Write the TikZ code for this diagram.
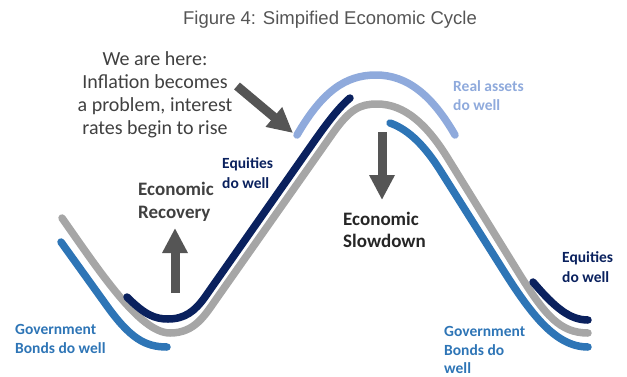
\documentclass[tikz,border=0pt]{standalone}
\usepackage{fontspec}
\setmainfont{Carlito}
\newfontfamily\titlefont{Liberation Sans}
\usepackage{xcolor}
\usepackage{tikz}
\usetikzlibrary{arrows.meta}

\definecolor{cyclegray}{HTML}{A6A6A6}
\definecolor{equitynavy}{HTML}{0A215E}
\definecolor{bondblue}{HTML}{2E75B6}
\definecolor{realblue}{HTML}{8FAADC}
\definecolor{arrowgray}{HTML}{555555}
\definecolor{textgray}{HTML}{404040}

\begin{document}
\begin{tikzpicture}[x=1pt,y=-1pt,
  band/.style={line width=7.5pt, line cap=round},
  block/.style={arrowgray, line width=9pt, -{Triangle[length=25pt,width=24pt]}},
  tag/.style={font=\bfseries\fontsize{15.5}{19.5}\selectfont, align=left, anchor=west, inner sep=0pt}]
\useasboundingbox (0,0) rectangle (627,376);

\node[text=arrowgray, inner sep=0pt] (title) at (330,20)
  {\titlefont\fontsize{18.5}{22}\selectfont Figure 4: Simpified Economic Cycle};

% the cycle and the bands riding on it
\draw[band, cyclegray] (62,218) .. controls (100,272) and (140,333) .. (170,333)
  .. controls (195,333) and (205,315) .. (217,298) -- (333,133)
  .. controls (350,109) and (360,104) .. (377,104)
  .. controls (405,104) and (427,125) .. (447,157) -- (520,275)
  .. controls (545,315) and (560,333) .. (588,333);
\draw[band, realblue] (297,135) .. controls (322,92) and (345,75) .. (376,75)
  .. controls (407,75) and (432,95) .. (455,135);
\draw[band, equitynavy] (127,297) .. controls (145,315) and (155,319) .. (168,319)
  .. controls (185,319) and (195,311) .. (205,297) -- (313,143)
  .. controls (325,126) and (338,108) .. (350,98);
\draw[band, equitynavy] (533,282) .. controls (555,308) and (570,320) .. (588,320);
\draw[band, bondblue] (61,242) -- (107,306) .. controls (130,338) and (145,347) .. (167,347);
\draw[band, bondblue] (390,123) .. controls (410,130) and (426,148) .. (440,170) -- (500,265)
  .. controls (530,313) and (555,347) .. (588,347);

% block arrows
\coordinate (hereFrom) at (237,86);
\coordinate (hereTo) at (293,133);
\coordinate (riseFrom) at (175,293);
\coordinate (riseTo) at (175,228);
\coordinate (fallFrom) at (382,132);
\coordinate (fallTo) at (382,200);
\draw[block] (hereFrom) -- (hereTo);
\draw[block] (riseFrom) -- (riseTo);
\draw[block] (fallFrom) -- (fallTo);

% labels
\node[text=textgray, align=center, inner sep=0pt, font=\fontsize{20}{23}\selectfont] (here) at (155,95)
  {We are here:\\Inflation becomes\\a problem, interest\\rates begin to rise};
\node[tag, text=textgray, font=\bfseries\fontsize{19}{23}\selectfont] (recovery) at (138,201.5) {Economic\\Recovery};
\node[tag, text=black!85, font=\bfseries\fontsize{19}{22}\selectfont] (slowdown) at (343,230) {Economic\\Slowdown};
\node[tag, text=equitynavy] (equitiesL) at (222,173) {Equities\\do well};
\node[tag, text=equitynavy] (equitiesR) at (562,267) {Equities\\do well};
\node[tag, text=bondblue] (bondsL) at (15,339) {Government\\Bonds do well};
\node[tag, text=bondblue, font=\bfseries\fontsize{15.5}{18.5}\selectfont] (bondsR) at (444,350) {Government\\Bonds do\\well};
\node[tag, text=realblue] (real) at (453,95.5) {Real assets\\do well};
\end{tikzpicture}
\end{document}
